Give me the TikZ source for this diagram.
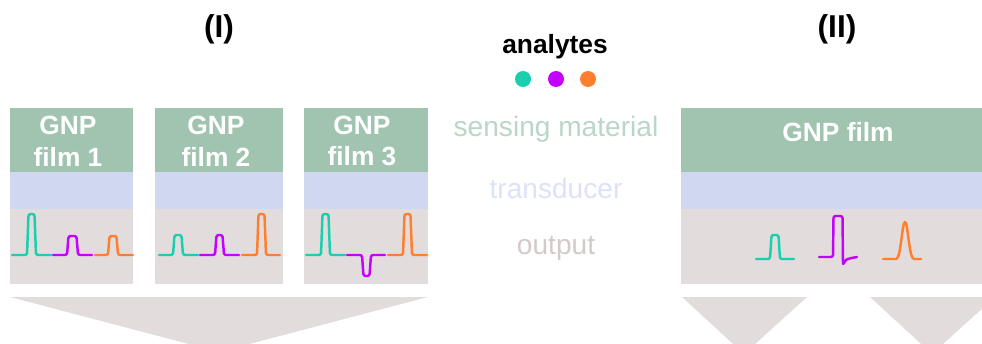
\documentclass[tikz,border=0pt]{standalone}
\usepackage{fontspec}
\setmainfont{Liberation Sans}
\usetikzlibrary{positioning,calc}
\definecolor{sensgreen}{HTML}{A0C4AF}
\definecolor{transblue}{HTML}{CFD7F1}
\definecolor{outgrey}{HTML}{E2DCDC}
\definecolor{senslabel}{HTML}{B9D6C6}
\definecolor{translabel}{HTML}{DCE2F7}
\definecolor{outlabel}{HTML}{D4C9C9}
\definecolor{anteal}{HTML}{19CFAE}
\definecolor{anpurple}{HTML}{C400FF}
\definecolor{anorange}{HTML}{FF7F2E}

% one pulse: colour, start, rise, fall, end, baseline, height
\newcommand{\sigpulse}[7]{%
  \draw[sig, #1] (#2,#6) -- (#3,#6) -- (#3+1.5,#6-#7) -- (#4-1.5,#6-#7) -- (#4,#6) -- (#5,#6);}

\begin{document}
\begin{tikzpicture}[
    x=0.02cm, y=-0.02cm,
    layer/.style={anchor=north west, inner sep=0, outer sep=0},
    filmtext/.style={text=white, font=\bfseries\fontsize{15}{18}\selectfont, align=center, inner sep=0},
    heading/.style={font=\bfseries\fontsize{18}{21}\selectfont, inner sep=0},
    legend/.style={font=\fontsize{16}{19}\selectfont, inner sep=0},
    dot/.style={circle, inner sep=0, minimum size=0.32cm},
    sig/.style={line width=1.4pt, rounded corners=1.2pt, line cap=round, line join=round},
    funnel/.style={fill=outgrey}
]
    \clip (0,0) rectangle (982,344);

    % Headings
    \node[heading] (headI) at (219,29) {(I)};
    \node[heading] (headII) at (837,29) {(II)};
    \node[heading, font=\bfseries\fontsize{15}{18}\selectfont] (analytes) at (555,47) {analytes};
    \node[dot, fill=anteal] (dotA) at (523,79) {};
    \node[dot, fill=anpurple] (dotB) at (556,79) {};
    \node[dot, fill=anorange] (dotC) at (588,79) {};

    % Layer names
    \node[legend, text=senslabel] (lsens) at (556,129) {sensing material};
    \node[legend, text=translabel] (ltrans) at (556,188) {transducer};
    \node[legend, text=outlabel] (lout) at (556,248) {output};

    % Film 1
    \node[layer, fill=sensgreen, minimum width=2.46cm, minimum height=1.28cm] (sens1) at (10,108) {};
    \node[layer, fill=transblue, minimum width=2.46cm, minimum height=0.74cm] (trans1) at (10,172) {};
    \node[layer, fill=outgrey, minimum width=2.46cm, minimum height=1.5cm] (out1) at (10,209) {};
    \node[filmtext] (txt1) at (68,141) {GNP\\film 1};

    % Film 2
    \node[layer, fill=sensgreen, minimum width=2.56cm, minimum height=1.28cm] (sens2) at (155,108) {};
    \node[layer, fill=transblue, minimum width=2.56cm, minimum height=0.74cm] (trans2) at (155,172) {};
    \node[layer, fill=outgrey, minimum width=2.56cm, minimum height=1.5cm] (out2) at (155,209) {};
    \node[filmtext] (txt2) at (216,141) {GNP\\film 2};

    % Film 3
    \node[layer, fill=sensgreen, minimum width=2.48cm, minimum height=1.28cm] (sens3) at (304,108) {};
    \node[layer, fill=transblue, minimum width=2.48cm, minimum height=0.74cm] (trans3) at (304,172) {};
    \node[layer, fill=outgrey, minimum width=2.48cm, minimum height=1.5cm] (out3) at (304,209) {};
    \node[filmtext] (txt3) at (362,141) {GNP\\film 3};

    % Single film
    \node[layer, fill=sensgreen, minimum width=6.2cm, minimum height=1.28cm] (sens4) at (681,108) {};
    \node[layer, fill=transblue, minimum width=6.2cm, minimum height=0.74cm] (trans4) at (681,172) {};
    \node[layer, fill=outgrey, minimum width=6.2cm, minimum height=1.5cm] (out4) at (681,209) {};
    \node[filmtext] (txt4) at (838,132) {GNP film};

    % Signals of film 1
    \sigpulse{anteal}{12}{27}{36}{51}{255}{41}
    \sigpulse{anpurple}{53}{67}{78}{92}{255}{19}
    \sigpulse{anorange}{95}{108}{118}{133}{255}{19}

    % Signals of film 2
    \sigpulse{anteal}{159}{173}{183}{198}{255}{20}
    \sigpulse{anpurple}{200}{215}{224}{239}{255}{20}
    \sigpulse{anorange}{242}{257}{266}{280}{255}{41}

    % Signals of film 3
    \sigpulse{anteal}{306}{321}{330}{345}{255}{41}
    \sigpulse{anpurple}{347}{362}{371}{385}{255}{-21}
    \sigpulse{anorange}{388}{403}{412}{427}{255}{41}

    % Signals of the single film
    \sigpulse{anteal}{756}{770}{780}{794}{259}{24}
    \draw[sig, anpurple] (819,257) -- (833,257) -- (833.5,216) -- (842.5,216) -- (843,265)
        .. controls (846,259) .. (857,257);
    \draw[sig, anorange, rounded corners=0pt] (883,259) -- (896,259) .. controls (901,259) and (902,222) .. (905,222)
        .. controls (908,222) and (909,259) .. (914,259) -- (921,259);

    % Funnels
    \fill[funnel] (10,297) -- (428,297) -- (219,352) -- cycle;
    \fill[funnel] (682,297) -- (807,297) -- (744,354) -- cycle;
    \fill[funnel] (870,297) -- (995,297) -- (932,354) -- cycle;
\end{tikzpicture}
\end{document}
